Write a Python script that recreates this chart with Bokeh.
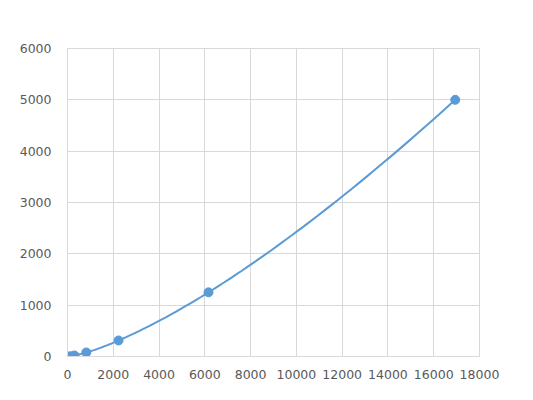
import numpy as np
from bokeh.plotting import figure
from bokeh.models import FixedTicker, Range1d
from bokeh.embed import file_html
from bokeh.resources import INLINE

# data
x_vals = [120, 300, 820, 2230, 6160, 16940]
y_vals = [5, 20, 78, 312, 1250, 5000]
x_ticks = [0, 2000, 4000, 6000, 8000, 10000, 12000, 14000, 16000, 18000]
y_ticks = [0, 1000, 2000, 3000, 4000, 5000, 6000]

BLUE = "#5b9bd5"
GRID = "#d9d9d9"
TEXT = "#595959"


def smooth_loglog(xs, ys, n=40):
    # Catmull-Rom spline through the points in log-log space
    P = np.column_stack([np.log(xs), np.log(ys)])
    P = np.vstack([2 * P[0] - P[1], P, 2 * P[-1] - P[-2]])
    out = []
    for i in range(1, len(P) - 2):
        p0, p1, p2, p3 = P[i - 1], P[i], P[i + 1], P[i + 2]
        t = np.linspace(0, 1, n)[:, None]
        seg = 0.5 * ((2 * p1) + (-p0 + p2) * t + (2 * p0 - 5 * p1 + 4 * p2 - p3) * t ** 2
                     + (-p0 + 3 * p1 - 3 * p2 + p3) * t ** 3)
        out.append(seg if i == 1 else seg[1:])
    c = np.exp(np.vstack(out))
    return c[:, 0], c[:, 1]


cx, cy = smooth_loglog(x_vals, y_vals)

p = figure(width=533, height=400, output_backend="svg", toolbar_location=None,
           x_range=Range1d(0, 18000), y_range=Range1d(0, 6000),
           min_border_left=67, min_border_right=54, min_border_top=48, min_border_bottom=44)
p.frame_width = 412
p.frame_height = 308
p.background_fill_color = "white"
p.border_fill_color = "white"
p.outline_line_color = GRID
p.outline_line_width = 1

p.line(cx, cy, line_color=BLUE, line_width=2)
p.scatter(x_vals, y_vals, size=9, fill_color=BLUE, line_color=BLUE)

for ax in (p.xaxis[0], p.yaxis[0]):
    ax.axis_line_color = GRID
    ax.major_tick_line_color = None
    ax.minor_tick_line_color = None
    ax.major_label_text_color = TEXT
    ax.major_label_text_font = "DejaVu Sans"
    ax.major_label_text_font_size = "12.5px"

p.xaxis[0].ticker = FixedTicker(ticks=x_ticks)
p.yaxis[0].ticker = FixedTicker(ticks=y_ticks)
p.xaxis[0].major_label_standoff = 7
p.yaxis[0].major_label_standoff = 10

p.xgrid.ticker = FixedTicker(ticks=x_ticks)
p.ygrid.ticker = FixedTicker(ticks=y_ticks)
p.xgrid.grid_line_color = GRID
p.ygrid.grid_line_color = GRID

open("out.html", "w").write(file_html(p, INLINE))
